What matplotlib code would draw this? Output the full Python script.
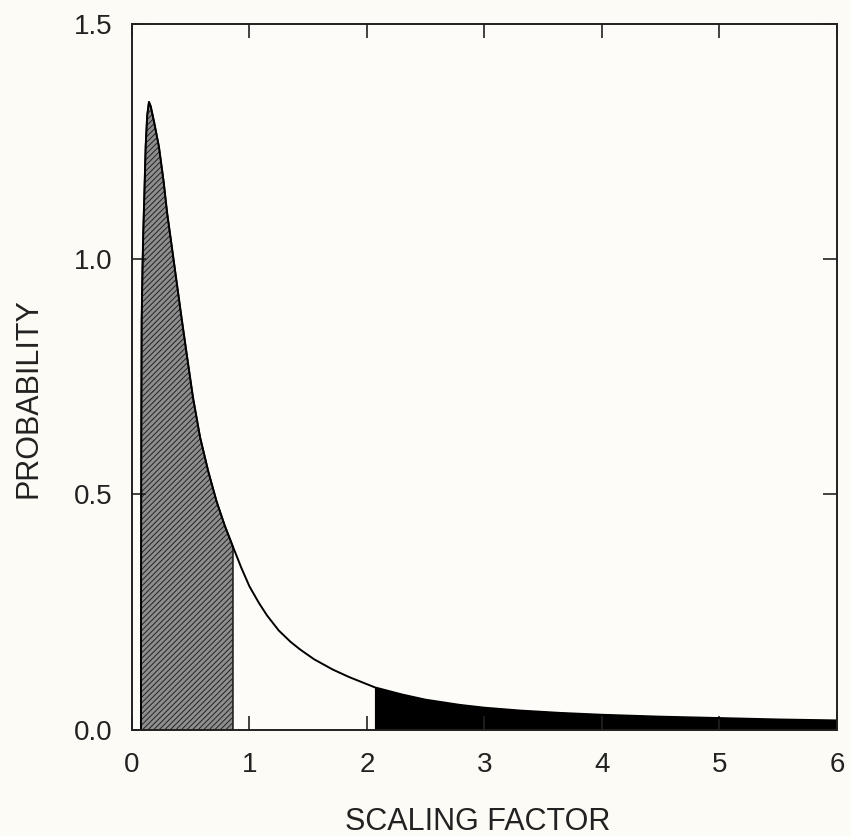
import numpy as np
import matplotlib.pyplot as plt

# values
scale_x = [0.077, 0.078, 0.080, 0.083, 0.090, 0.097, 0.104, 0.117, 0.130, 0.145,
           0.160, 0.190, 0.230, 0.270, 0.300, 0.340, 0.380, 0.420, 0.470, 0.520,
           0.580, 0.650, 0.720, 0.790, 0.860, 0.930, 1.000, 1.080, 1.150, 1.250,
           1.350, 1.430, 1.550, 1.710, 1.850, 2.000, 2.070, 2.300, 2.500, 2.790,
           3.000, 3.300, 3.640, 4.000, 4.490, 5.000, 5.500, 6.000]
prob_y = [0.000, 0.300, 0.650, 0.870, 0.980, 1.060, 1.120, 1.240, 1.305, 1.334,
          1.325, 1.290, 1.239, 1.165, 1.098, 1.026, 0.953, 0.880, 0.792, 0.706,
          0.622, 0.549, 0.486, 0.434, 0.389, 0.345, 0.305, 0.270, 0.243, 0.211,
          0.187, 0.171, 0.150, 0.128, 0.112, 0.097, 0.090, 0.075, 0.064, 0.053,
          0.047, 0.041, 0.036, 0.032, 0.028, 0.025, 0.022, 0.020]
lower_cut = 0.86
upper_cut = 2.07
xticks = [0, 1, 2, 3, 4, 5, 6]
yticks = [0.0, 0.5, 1.0, 1.5]

plt.rcParams['font.family'] = ['Liberation Sans', 'DejaVu Sans']
plt.rcParams['hatch.linewidth'] = 0.7

x = np.array(scale_x)
y = np.array(prob_y)

fig = plt.figure(figsize=(8.51, 8.36), dpi=100, facecolor='#fcfbf6')
ax = fig.add_axes([0.155, 0.127, 0.8284, 0.8445])
ax.set_facecolor('#fdfcf8')

# shaded tails of the distribution
ax.fill_between(x, 0, y, where=x <= lower_cut, facecolor='#8e8e8e',
                edgecolor='#222222', hatch='//////', linewidth=1.2)
ax.fill_between(x, 0, y, where=x >= upper_cut, facecolor='black',
                edgecolor='black', linewidth=1.0)
ax.plot(x, y, color='black', lw=1.4)

ax.set_xlim(0, 6)
ax.set_ylim(0, 1.5)
ax.set_xticks(xticks)
ax.set_yticks(yticks)
ax.set_yticklabels([f'{v:.1f}' for v in yticks])
ax.tick_params(direction='in', length=10, width=1.2, top=True, right=True,
               labelsize=20, colors='#222222')
ax.tick_params(axis='x', pad=16)
ax.tick_params(axis='y', pad=14)
for s in ax.spines.values():
    s.set_linewidth(1.4)
    s.set_color('#222222')

ax.set_xlabel('SCALING FACTOR', fontsize=22, color='#222222')
ax.set_ylabel('PROBABILITY', fontsize=22, color='#222222')
ax.xaxis.set_label_coords(0.49, -0.11)
ax.yaxis.set_label_coords(-0.125, 0.47)

fig.savefig('out.png', dpi=100, facecolor=fig.get_facecolor())
